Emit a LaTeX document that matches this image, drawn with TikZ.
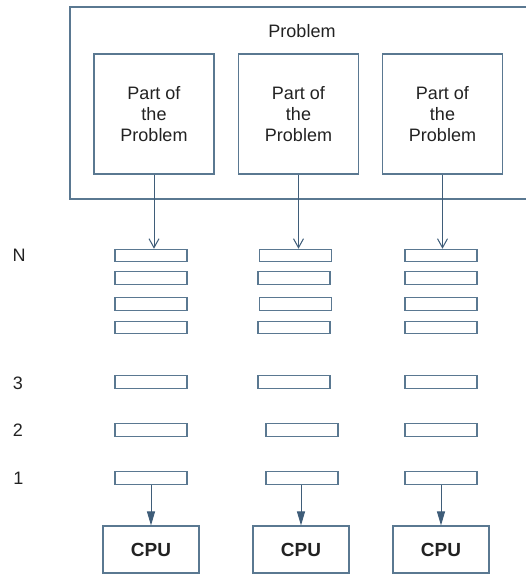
\documentclass[tikz,border=0pt]{standalone}
\usepackage{fontspec}
\setmainfont{Liberation Sans}
\usetikzlibrary{arrows.meta}
\definecolor{edgeblue}{HTML}{5A7891}
\definecolor{arrowblue}{HTML}{3F5D79}
\definecolor{inkgray}{HTML}{222222}
\tikzset{
  boxline/.style={draw=edgeblue, line width=1.1pt, fill=white, inner sep=0pt},
  partbox/.style={boxline, minimum width=120pt, minimum height=120pt, align=center,
    text=inkgray, font=\fontsize{18pt}{21.3pt}\selectfont},
  slotbox/.style={boxline, minimum width=72pt, minimum height=12.5pt},
  cpubox/.style={boxline, minimum width=96pt, minimum height=47pt, text=inkgray,
    font=\fontsize{19pt}{22pt}\selectfont\bfseries},
  rowlabel/.style={text=inkgray, font=\fontsize{18pt}{21pt}\selectfont, inner sep=0pt},
  feed/.style={draw=arrowblue, line width=1pt, -{Straight Barb[length=9pt,width=10pt]}},
  dispatch/.style={draw=arrowblue, line width=1pt, -{Triangle[length=14pt,width=8pt]}}
}
\begin{document}
\begin{tikzpicture}[x=1pt, y=-1pt]
  \useasboundingbox (0,0) rectangle (526,574);
  \clip (0,0) rectangle (526,574);

  % enclosing problem box (runs off the right edge)
  \node[boxline, minimum width=470pt, minimum height=192pt] (problem) at (305,103) {};
  \node[text=inkgray, font=\fontsize{18pt}{21pt}\selectfont] (title) at (302,31) {Problem};

  % the three parts
  \node[partbox] (p1) at (154,114) {Part of\\the\\Problem};
  \node[partbox] (p2) at (298.5,114) {Part of\\the\\Problem};
  \node[partbox] (p3) at (442.5,114) {Part of\\the\\Problem};

  % row labels
  \node[rowlabel] (lN) at (19,255) {N};
  \node[rowlabel] (l3) at (18,383) {3};
  \node[rowlabel] (l2) at (18,430) {2};
  \node[rowlabel] (l1) at (18.5,478) {1};

  % first column of queued tasks
  \node[slotbox] (a7) at (151,255.5) {};
  \node[slotbox] (a6) at (151,278) {};
  \node[slotbox] (a5) at (151,304) {};
  \node[slotbox] (a4) at (151,327.5) {};
  \node[slotbox] (a3) at (151,382) {};
  \node[slotbox] (a2) at (151,430) {};
  \node[slotbox] (a1) at (151,478) {};

  % second column
  \node[slotbox] (b7) at (295.5,255.5) {};
  \node[slotbox] (b6) at (294,278) {};
  \node[slotbox] (b5) at (295.5,304) {};
  \node[slotbox] (b4) at (294,327.5) {};
  \node[slotbox] (b3) at (294,382) {};
  \node[slotbox] (b2) at (302,430) {};
  \node[slotbox] (b1) at (302,478) {};

  % third column
  \node[slotbox] (c7) at (441,255.5) {};
  \node[slotbox] (c6) at (441,278) {};
  \node[slotbox] (c5) at (441,304) {};
  \node[slotbox] (c4) at (441,327.5) {};
  \node[slotbox] (c3) at (441,382) {};
  \node[slotbox] (c2) at (441,430) {};
  \node[slotbox] (c1) at (441,478) {};

  % processors
  \node[cpubox] (cpu1) at (151,549.5) {CPU};
  \node[cpubox] (cpu2) at (301,549.5) {CPU};
  \node[cpubox] (cpu3) at (441,549.5) {CPU};

  % parts feed their queues
  \draw[feed] (p1.south) -- (p1.south |- a7.north);
  \draw[feed] (p2.south) -- (p2.south |- b7.north);
  \draw[feed] (p3.south) -- (p3.south |- c7.north);

  % queues dispatch to processors
  \draw[dispatch] (cpu1.north |- a1.south) -- (cpu1.north);
  \draw[dispatch] (cpu2.north |- b1.south) -- (cpu2.north);
  \draw[dispatch] (cpu3.north |- c1.south) -- (cpu3.north);
\end{tikzpicture}
\end{document}
